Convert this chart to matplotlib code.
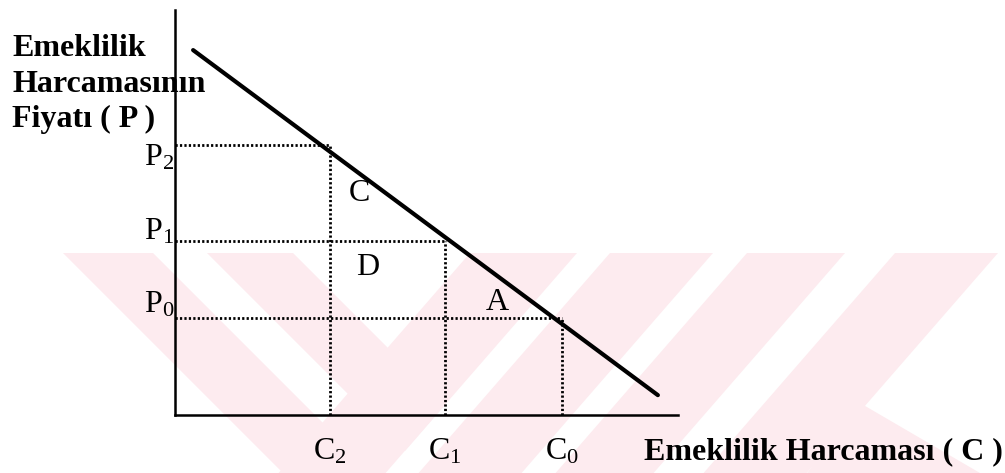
import matplotlib
matplotlib.use("Agg")
import matplotlib.pyplot as plt
from matplotlib.patches import Polygon

plt.rcParams['font.family'] = ['Liberation Serif', 'DejaVu Serif']
plt.rcParams['mathtext.fontset'] = 'custom'
plt.rcParams['mathtext.rm'] = 'Liberation Serif'
plt.rcParams['mathtext.it'] = 'Liberation Serif:italic'

# Demand line for pension spending (price P vs quantity C)
demand_x = [0.36, 9.60]
demand_y = [9.01, 0.49]

# Quantity levels C0, C1, C2 and the matching price levels P0, P1, P2
c_levels = [7.69, 5.37, 3.08]
p_levels = [2.40, 4.30, 6.67]
c_labels = ['C$_0$', 'C$_1$', 'C$_2$']
p_labels = ['P$_0$', 'P$_1$', 'P$_2$']
p_label_shift = [0.32, 0.22, -0.32]

# Area labels between the lines
area_names = ['C', 'D', 'A']
area_x = [3.66, 3.82, 6.40]
area_y = [5.48, 3.65, 2.77]

x_title = 'Emeklilik Harcaması ( C )'
y_title = 'Emeklilik\nHarcamasının\nFiyatı ( P )'

fig = plt.figure(figsize=(10.05, 4.73), dpi=100)

# faint pink watermark in the background (pixel coordinates)
bg = fig.add_axes([0, 0, 1, 1], zorder=0)
bg.set_xlim(0, 1005)
bg.set_ylim(473, 0)
bg.axis('off')
wm_color = '#fdebef'
top, bot = 253, 473
h = bot - top
for x0, x1 in [(63, 153)]:  # band going down to the right
    bg.add_patch(Polygon([(x0, top), (x1, top), (x1 + h, bot), (x0 + h, bot)],
                         color=wm_color, lw=0))
for x0, x1 in [(470, 577), (610, 713), (747, 845), (895, 998)]:  # bands going down to the left
    bg.add_patch(Polygon([(x0, top), (x1, top), (x1 - 0.87 * h, bot), (x0 - 0.87 * h, bot)],
                         color=wm_color, lw=0))
bg.add_patch(Polygon([(207, top), (293, top), (445, 405), (405, 451)], color=wm_color, lw=0))
bg.add_patch(Polygon([(860, 403), (980, 473), (807, 473)], color=wm_color, lw=0))

ax = fig.add_axes([175 / 1005, 58 / 473, 503 / 1005, 405 / 473], zorder=1)
ax.patch.set_alpha(0)
ax.set_xlim(0, 10)
ax.set_ylim(0, 10)
for side in ['top', 'right']:
    ax.spines[side].set_visible(False)
for side in ['left', 'bottom']:
    ax.spines[side].set_linewidth(1.8)
ax.set_xticks([])
ax.set_yticks([])

ax.plot(demand_x, demand_y, color='black', lw=3.0, solid_capstyle='round')

for c, p in zip(c_levels, p_levels):
    ax.plot([0, c], [p, p], color='black', lw=2.0, linestyle=(0, (0.8, 0.8)))
    ax.plot([c, c], [0, p], color='black', lw=2.0, linestyle=(0, (0.8, 0.8)))

for p, lab, dy in zip(p_levels, p_labels, p_label_shift):
    ax.text(-0.02, p + dy, lab, ha='right', va='center', fontsize=23, clip_on=False)

for c, lab in zip(c_levels, c_labels):
    ax.text(c, -0.91, lab, ha='center', va='center', fontsize=23, clip_on=False)

for name, x, y in zip(area_names, area_x, area_y):
    ax.text(x, y, name, ha='center', va='center', fontsize=23)

ax.text(9.32, -0.91, x_title, ha='left', va='center', fontsize=23,
        fontweight='bold', clip_on=False)
fig.text(12 / 1005, 1 - 34 / 473, y_title, ha='left', va='top', fontsize=23,
         fontweight='bold', linespacing=1.3)

fig.savefig('out.png', dpi=100)
